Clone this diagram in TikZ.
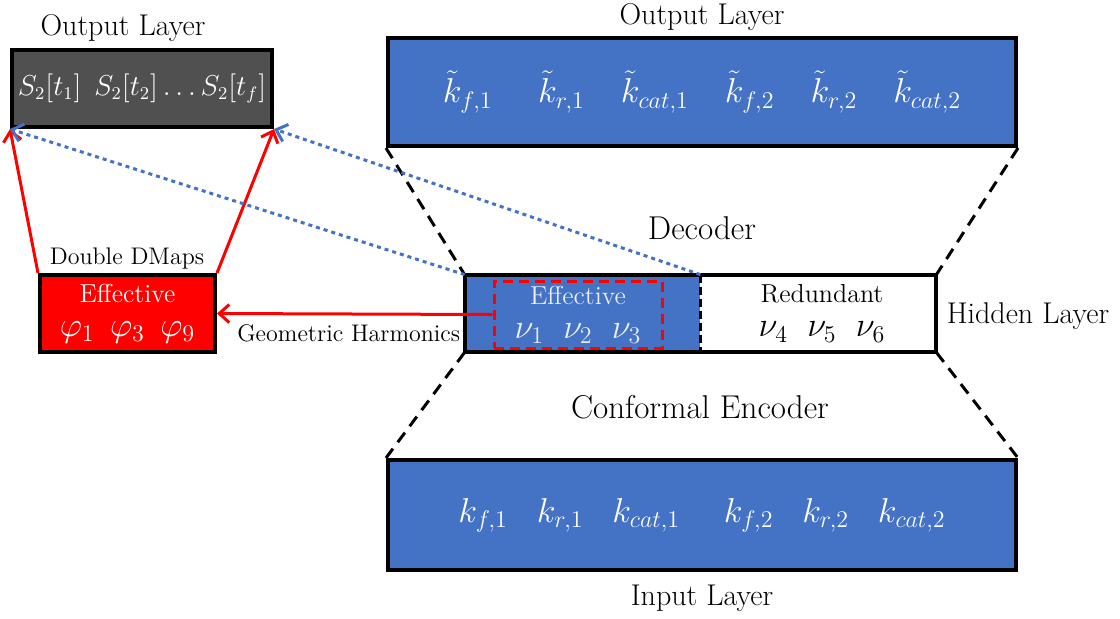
\documentclass[tikz,border=0pt]{standalone}
\usepackage{amsmath}
\usetikzlibrary{arrows.meta}
\definecolor{layerblue}{HTML}{4472C4}
\definecolor{layergray}{HTML}{505050}
\definecolor{dmapred}{HTML}{FF0000}
\tikzset{Caption/.style={font=\fontsize{15}{18}\selectfont}}

\begin{document}
\begin{tikzpicture}[x=0.5pt, y=-0.5pt, >={Straight Barb[length=5pt, width=9pt]}, Layer/.style={rectangle, draw=black, fill=#1, line width=2pt, inner sep=0pt, text=white, font=\fontsize{17}{20}\selectfont}]
        % \draw[help lines, gray] (0,0) grid (1120,618);
        \useasboundingbox (0,0) rectangle (1120,618);
        \node[Layer=layergray, minimum width=130pt, minimum height=38.5pt, font=\fontsize{13.5}{16}\selectfont] (SO) at (142,88.5){$S_2[t_1]\;\, S_2[t_2]\ldots S_2[t_f]$};
        \node[Caption] (SOl) at (123,28){Output Layer};
        \node[Layer=layerblue, minimum width=314pt, minimum height=54pt, font=\fontsize{18}{21}\selectfont] (O) at (702,92){$\tilde{k}_{f,1}\quad\;\tilde{k}_{r,1}\quad\tilde{k}_{cat,1}\quad\tilde{k}_{f,2}\quad\tilde{k}_{r,2}\quad\tilde{k}_{cat,2}$};
        \node[Caption, anchor=north, inner sep=1pt] (Ol) at (702,1){Output Layer};
        \node[rectangle, fill=layerblue, minimum width=117.5pt, minimum height=38.5pt, inner sep=0pt] (HE) at (582.5,313.5){};
        \node[rectangle, fill=white, minimum width=119pt, minimum height=38.5pt, inner sep=0pt, align=center, font=\fontsize{13}{16}\selectfont] (HR) at (822,313.5){Redundant\\[1pt]{\fontsize{17}{20}\selectfont$\nu_4\;\;\nu_5\;\;\nu_6$}};
        \node[rectangle, draw=dmapred, dash pattern=on 5pt off 3pt, line width=1.5pt, minimum width=84pt, minimum height=33.5pt, inner sep=0pt, text=white!88!layerblue, align=center, font=\fontsize{13}{16}\selectfont] (HV) at (578,314.5){Effective\\[1pt]{\fontsize{17}{20}\selectfont$\nu_1\;\;\nu_2\;\;\nu_3$}};
        \draw[line width=2pt] (HE.north west) rectangle ([xshift=-2.5pt]HR.south east);
        \draw[line width=1.5pt, dash pattern=on 4pt off 2pt] (HE.north east) -- (HE.south east);
        \node[Caption] (Hl) at (1028,316){Hidden Layer};
        \node[Caption, font=\fontsize{16.5}{19}\selectfont] (D) at (702,228){Decoder};
        \node[Caption, font=\fontsize{16.5}{19}\selectfont] (E) at (700,407){Conformal Encoder};
        \node[Layer=layerblue, minimum width=314pt, minimum height=55pt] (I) at (702,515){$k_{f,1}\;\;\;k_{r,1}\;\;\;k_{cat,1}\quad\;k_{f,2}\;\;\;k_{r,2}\;\;\;k_{cat,2}$};
        \node[Caption] (Il) at (702,598){Input Layer};
        \node[Layer=dmapred, minimum width=87.5pt, minimum height=38.5pt, align=center, font=\fontsize{13}{16}\selectfont] (DM) at (127.5,313.5){Effective\\[1pt]{\fontsize{17}{20}\selectfont$\varphi_1\;\,\varphi_3\;\,\varphi_9$}};
        \node[font=\fontsize{12}{14}\selectfont] (DMl) at (127,258){Double DMaps};

        \draw[line width=1.5pt, dash pattern=on 6pt off 4pt] (O.south west) -- (HE.north west);
        \draw[line width=1.5pt, dash pattern=on 6pt off 4pt] (O.south east) -- ([xshift=-2.5pt]HR.north east);
        \draw[line width=1.5pt, dash pattern=on 6pt off 4pt] (HE.south west) -- (I.north west);
        \draw[line width=1.5pt, dash pattern=on 6pt off 4pt] ([xshift=-2.5pt]HR.south east) -- (I.north east);

        \draw[->, line width=1.5pt, dmapred] (HV.west) -- node[below, black, font=\fontsize{12}{14}\selectfont, yshift=-1pt, xshift=-3pt]{Geometric Harmonics} (DM.east);
        \draw[->, line width=1.5pt, dmapred] (DM.north west) -- (SO.south west);
        \draw[->, line width=1.5pt, dmapred] (DM.north east) -- (SO.south east);
        \draw[->, line width=1.5pt, layerblue, dash pattern=on 2pt off 2pt] (HE.north west) -- (SO.south west);
        \draw[->, line width=1.5pt, layerblue, dash pattern=on 2pt off 2pt] (HE.north east) -- (SO.south east);

    \end{tikzpicture}
\end{document}
